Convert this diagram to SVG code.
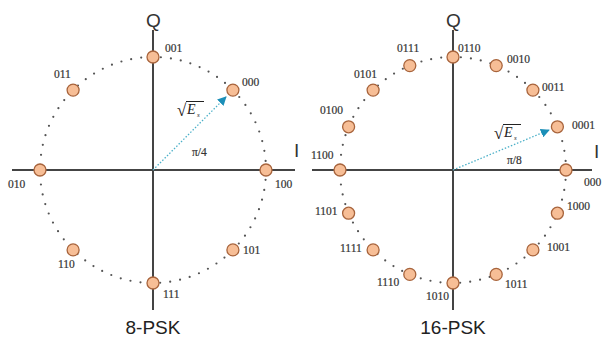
<svg xmlns="http://www.w3.org/2000/svg" width="602" height="338" viewBox="0 0 602 338">
<defs>
<style>
.axis{stroke:#444;stroke-width:2;fill:none}
.ring{stroke:#555;stroke-width:2.2;fill:none;stroke-dasharray:0 10;stroke-linecap:round}
.pt{fill:#F7BE96;stroke:#A8643C;stroke-width:1.3}
.lbl{font-family:"Liberation Serif",serif;font-size:11.5px;fill:#333;stroke:#333;stroke-width:0.2}
.ax{font-family:"Liberation Sans",Arial,sans-serif;font-size:19px;fill:#333}
.title{font-family:"Liberation Sans",Arial,sans-serif;font-size:19px;fill:#222;text-anchor:middle}
.vec{stroke:#4BB0C8;stroke-width:1.3;stroke-dasharray:1.5 1.8;fill:none}
.sq{font-family:"Liberation Serif",serif;fill:#222}
</style>
<marker id="ah" viewBox="0 0 10 10" refX="9" refY="5" markerWidth="9" markerHeight="9" markerUnits="userSpaceOnUse" orient="auto">
<path d="M0,0 L10,5 L0,10 Z" fill="#1C8FB8"/>
</marker>
</defs>
<rect width="602" height="338" fill="#fff"/>

<!-- 8-PSK -->
<g id="psk8-frame">
<circle class="ring" cx="153" cy="170" r="113"/>
<line class="axis" x1="12" y1="170" x2="295" y2="170"/>
<line class="axis" x1="153" y1="30" x2="153" y2="310"/>
<text class="ax" x="146" y="27">Q</text>
<text class="ax" x="294" y="157">I</text>
<text class="title" x="153" y="334">8-PSK</text>
</g>
<g id="psk8-connectors">
<line class="vec" x1="153" y1="170" x2="226" y2="97" marker-end="url(#ah)"/>
</g>
<g id="psk8-labels">
<g id="psk8-es">
<text class="sq" x="177" y="116" font-size="17">√</text>
<line x1="186" y1="101.5" x2="204" y2="101.5" stroke="#222" stroke-width="1"/>
<text class="sq" x="187" y="114" font-size="14" font-style="italic">E</text>
<text class="sq" x="197" y="117" font-size="7" font-style="italic">s</text>
</g>
<text class="lbl" x="192" y="156">π/4</text>
</g>
<g id="p8-100"><circle class="pt" cx="266" cy="170" r="6"/><text class="lbl" x="275" y="188">100</text></g>
<g id="p8-000"><circle class="pt" cx="232.9" cy="90.1" r="6"/><text class="lbl" x="242" y="86">000</text></g>
<g id="p8-001"><circle class="pt" cx="153" cy="57" r="6"/><text class="lbl" x="165" y="52">001</text></g>
<g id="p8-011"><circle class="pt" cx="73.1" cy="90.1" r="6"/><text class="lbl" x="54" y="78">011</text></g>
<g id="p8-010"><circle class="pt" cx="40" cy="170" r="6"/><text class="lbl" x="8" y="188">010</text></g>
<g id="p8-110"><circle class="pt" cx="73.1" cy="249.9" r="6"/><text class="lbl" x="58" y="268">110</text></g>
<g id="p8-111"><circle class="pt" cx="153" cy="283" r="6"/><text class="lbl" x="163" y="298">111</text></g>
<g id="p8-101"><circle class="pt" cx="232.9" cy="249.9" r="6"/><text class="lbl" x="243" y="254">101</text></g>

<!-- 16-PSK -->
<g id="psk16-frame">
<circle class="ring" cx="453" cy="170" r="113"/>
<line class="axis" x1="312" y1="170" x2="592" y2="170"/>
<line class="axis" x1="453" y1="30" x2="453" y2="310"/>
<text class="ax" x="446" y="27">Q</text>
<text class="ax" x="594" y="158">I</text>
<text class="title" x="453" y="334">16-PSK</text>
</g>
<g id="psk16-connectors">
<line class="vec" x1="453" y1="170" x2="549" y2="130" marker-end="url(#ah)"/>
</g>
<g id="psk16-labels">
<g id="psk16-es">
<text class="sq" x="494" y="139" font-size="17">√</text>
<line x1="503" y1="124.5" x2="521" y2="124.5" stroke="#222" stroke-width="1"/>
<text class="sq" x="504" y="137" font-size="14" font-style="italic">E</text>
<text class="sq" x="514" y="140" font-size="7" font-style="italic">s</text>
</g>
<text class="lbl" x="507" y="164">π/8</text>
</g>
<g id="p16-0000"><circle class="pt" cx="566" cy="170" r="6"/><text class="lbl" x="584" y="186">000</text></g>
<g id="p16-0001"><circle class="pt" cx="557.4" cy="126.8" r="6"/><text class="lbl" x="572" y="129">0001</text></g>
<g id="p16-0011"><circle class="pt" cx="532.9" cy="90.1" r="6"/><text class="lbl" x="542" y="91">0011</text></g>
<g id="p16-0010"><circle class="pt" cx="496.2" cy="65.6" r="6"/><text class="lbl" x="507" y="63">0010</text></g>
<g id="p16-0110"><circle class="pt" cx="453" cy="57" r="6"/><text class="lbl" x="458" y="52">0110</text></g>
<g id="p16-0111"><circle class="pt" cx="409.8" cy="65.6" r="6"/><text class="lbl" x="397" y="52">0111</text></g>
<g id="p16-0101"><circle class="pt" cx="373.1" cy="90.1" r="6"/><text class="lbl" x="354" y="78">0101</text></g>
<g id="p16-0100"><circle class="pt" cx="348.6" cy="126.8" r="6"/><text class="lbl" x="320" y="114">0100</text></g>
<g id="p16-1100"><circle class="pt" cx="340" cy="170" r="6"/><text class="lbl" x="311" y="159">1100</text></g>
<g id="p16-1101"><circle class="pt" cx="348.6" cy="213.2" r="6"/><text class="lbl" x="315" y="215">1101</text></g>
<g id="p16-1111"><circle class="pt" cx="373.1" cy="249.9" r="6"/><text class="lbl" x="340" y="252">1111</text></g>
<g id="p16-1110"><circle class="pt" cx="409.8" cy="274.4" r="6"/><text class="lbl" x="377" y="286">1110</text></g>
<g id="p16-1010"><circle class="pt" cx="453" cy="283" r="6"/><text class="lbl" x="426" y="300">1010</text></g>
<g id="p16-1011"><circle class="pt" cx="496.2" cy="274.4" r="6"/><text class="lbl" x="505" y="288">1011</text></g>
<g id="p16-1001"><circle class="pt" cx="532.9" cy="249.9" r="6"/><text class="lbl" x="547" y="251">1001</text></g>
<g id="p16-1000"><circle class="pt" cx="557.4" cy="213.2" r="6"/><text class="lbl" x="567" y="210">1000</text></g>
</svg>
